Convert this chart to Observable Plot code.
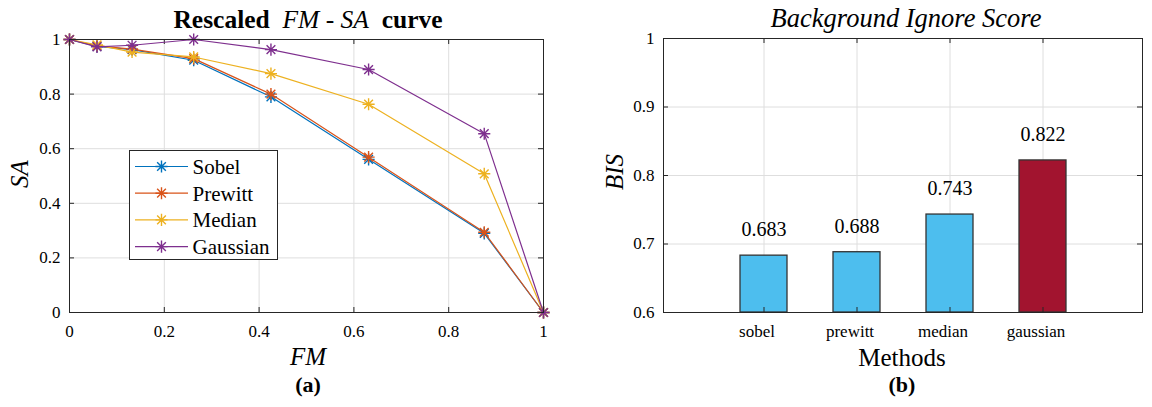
<!DOCTYPE html>
<html><head><meta charset="utf-8">
<script src="https://cdn.jsdelivr.net/npm/d3@7"></script>
<script src="https://cdn.jsdelivr.net/npm/@observablehq/plot@0.6"></script>
<style>
body{margin:0;background:#fff;width:1152px;height:407px;overflow:hidden;position:relative;font-family:"Liberation Serif","Times New Roman",serif;}
#a,#b{position:absolute;top:0;}
#a{left:0}
#b{left:576px}
#legend{position:absolute;left:129px;top:150px;}
</style></head><body>
<div id="a"></div><div id="b"></div><div id="legend"></div>
<script>
// ---------- data: panel (a) ----------
const fm = [0, 0.058, 0.132, 0.262, 0.425, 0.631, 0.875, 1.0];
const methodsA = ["Sobel", "Prewitt", "Median", "Gaussian"];
const saSobel    = [1.0, 0.975, 0.963, 0.924, 0.790, 0.561, 0.290, 0];
const saPrewitt  = [1.0, 0.977, 0.965, 0.930, 0.800, 0.569, 0.294, 0];
const saMedian   = [1.0, 0.980, 0.954, 0.936, 0.875, 0.763, 0.508, 0];
const saGaussian = [1.0, 0.973, 0.979, 1.0, 0.963, 0.890, 0.655, 0];
const lineColors = ["#0072BD", "#D95319", "#EDB120", "#7E2F8E"];
const ticksA = [0, 0.2, 0.4, 0.6, 0.8, 1];

// ---------- data: panel (b) ----------
const methodsB = ["sobel", "prewitt", "median", "gaussian"];
const bis = [0.683, 0.688, 0.743, 0.822];
const barColors = ["#4DBEEE", "#4DBEEE", "#4DBEEE", "#A2142F"];
const ticksBY = [0.6, 0.7, 0.8, 0.9, 1];
const yDomainB = [0.6, 1];

const FONT = '"Liberation Serif", "Times New Roman", serif';
const W = 576, H = 407;
const GRID = "#dedede", AX = "#262626";
const fmt = d => String(d);

// MATLAB-style '*' marker: a plus combined with an x
const star8 = {
  draw(ctx, size) {
    const r = Math.sqrt(size / Math.PI) * 1.1, q = r * 0.72;
    ctx.moveTo(-r, 0); ctx.lineTo(r, 0);
    ctx.moveTo(0, -r); ctx.lineTo(0, r);
    ctx.moveTo(-q, -q); ctx.lineTo(q, q);
    ctx.moveTo(-q, q); ctx.lineTo(q, -q);
  }
};

function serifAll(svg) {
  d3.select(svg).style("font-family", FONT, "important");
  d3.select(svg).selectAll("g, text, tspan").style("font-family", FONT, "important");
}

// ---------- panel (a) ----------
const mA = {top: 39, right: 33, bottom: 95, left: 69};
const ihA = H - mA.top - mA.bottom, iwA = W - mA.left - mA.right;
const seriesA = [saSobel, saPrewitt, saMedian, saGaussian];
const rowsA = methodsA.flatMap((m, i) => fm.map((x, j) => ({method: m, fm: x, sa: seriesA[i][j]})));

const plotA = Plot.plot({
  width: W, height: H,
  marginTop: mA.top, marginRight: mA.right, marginBottom: mA.bottom, marginLeft: mA.left,
  style: {fontFamily: FONT, fontSize: "17px", background: "white", color: AX},
  x: {domain: [0, 1]},
  y: {domain: [0, 1]},
  color: {domain: methodsA, range: lineColors},
  marks: [
    Plot.gridX(ticksA, {stroke: GRID, strokeOpacity: 1}),
    Plot.gridY(ticksA, {stroke: GRID, strokeOpacity: 1}),
    Plot.axisX(ticksA, {tickSize: 0, tickPadding: 12, label: null, fontSize: 17, tickFormat: fmt, fill: "#000"}),
    Plot.axisY(ticksA, {tickSize: 0, tickPadding: 9, label: null, fontSize: 17, tickFormat: fmt, fill: "#000"}),
    Plot.ruleX(ticksA, {x: d => d, insetTop: ihA - 5, stroke: AX}),
    Plot.ruleX(ticksA, {x: d => d, insetBottom: ihA - 5, stroke: AX}),
    Plot.ruleY(ticksA, {y: d => d, insetRight: iwA - 5, stroke: AX}),
    Plot.ruleY(ticksA, {y: d => d, insetLeft: iwA - 5, stroke: AX}),
    ...methodsA.flatMap(m => [
      Plot.line(rowsA.filter(d => d.method === m), {x: "fm", y: "sa", stroke: "method", strokeWidth: 1.2}),
      Plot.dot(rowsA.filter(d => d.method === m), {x: "fm", y: "sa", stroke: "method", symbol: star8, r: 5.5, strokeWidth: 1.4})
    ]),
    Plot.frame({stroke: AX, strokeWidth: 1})
  ]
});
document.getElementById("a").appendChild(plotA);

const sa = d3.select(plotA);
const cxA = 308;
const tA = sa.append("text").attr("x", cxA).attr("y", 28).attr("text-anchor", "middle")
  .attr("font-size", 25.5).attr("fill", "#000").style("white-space", "pre");
tA.append("tspan").attr("font-weight", "bold").text("Rescaled");
tA.append("tspan").attr("font-style", "italic").text("\u00a0\u00a0FM - SA\u00a0\u00a0");
tA.append("tspan").attr("font-weight", "bold").text("curve");
sa.append("text").attr("x", cxA).attr("y", 365).attr("text-anchor", "middle")
  .attr("font-size", 25).attr("font-style", "italic").attr("fill", "#000").text("FM");
sa.append("text").attr("x", cxA).attr("y", 392).attr("text-anchor", "middle")
  .attr("font-size", 22).attr("font-weight", "bold").attr("fill", "#000").text("(a)");
sa.append("text").attr("transform", "translate(28,174) rotate(-90)").attr("text-anchor", "middle")
  .attr("font-size", 25).attr("font-style", "italic").attr("fill", "#000").text("SA");
serifAll(plotA);

// legend for panel (a)
const lg = d3.select("#legend").append("svg").attr("width", 150).attr("height", 111)
  .style("font-family", FONT);
lg.append("rect").attr("x", 0.5).attr("y", 0.5).attr("width", 148).attr("height", 109)
  .attr("fill", "#fff").attr("stroke", AX);
methodsA.forEach((m, i) => {
  const y = 16.5 + i * 26.7;
  lg.append("line").attr("x1", 6).attr("x2", 59).attr("y1", y).attr("y2", y)
    .attr("stroke", lineColors[i]).attr("stroke-width", 1.2);
  lg.append("path").attr("d", d3.symbol(star8, Math.PI * 5.5 * 5.5)())
    .attr("transform", `translate(32.5,${y})`).attr("fill", "none")
    .attr("stroke", lineColors[i]).attr("stroke-width", 1.4);
  lg.append("text").attr("x", 63.5).attr("y", y).attr("dy", "0.35em")
    .attr("font-size", 21).attr("fill", "#000").text(m);
});

// ---------- panel (b) ----------
const mB = {top: 38, right: 10, bottom: 95, left: 87};
const ihB = H - mB.top - mB.bottom, iwB = W - mB.left - mB.right;
const rowsB = methodsB.map((m, i) => ({method: m, bis: bis[i], color: barColors[i]}));

const plotB = Plot.plot({
  width: W, height: H,
  marginTop: mB.top, marginRight: mB.right, marginBottom: mB.bottom, marginLeft: mB.left,
  style: {fontFamily: FONT, fontSize: "17px", background: "white", color: AX},
  x: {type: "band", domain: methodsB, paddingInner: 0.5, paddingOuter: 0.8},
  y: {domain: yDomainB},
  color: {type: "identity"},
  marks: [
    Plot.gridX(methodsB, {stroke: GRID, strokeOpacity: 1}),
    Plot.gridY(ticksBY, {stroke: GRID, strokeOpacity: 1}),
    Plot.axisX(methodsB, {tickSize: 0, tickPadding: 12, dx: -7, label: null, fontSize: 17, fill: "#000"}),
    Plot.axisY(ticksBY, {tickSize: 0, tickPadding: 9, label: null, fontSize: 17, tickFormat: fmt, fill: "#000"}),
    Plot.barY(rowsB, {x: "method", y1: yDomainB[0], y2: "bis", fill: "color", stroke: "#333", strokeWidth: 1.3}),
    Plot.ruleX(methodsB, {x: d => d, insetTop: ihB - 5, stroke: AX}),
    Plot.ruleX(methodsB, {x: d => d, insetBottom: ihB - 5, stroke: AX}),
    Plot.ruleY(ticksBY, {y: d => d, insetRight: iwB - 5, stroke: AX}),
    Plot.ruleY(ticksBY, {y: d => d, insetLeft: iwB - 5, stroke: AX}),
    Plot.text(rowsB, {x: "method", y: "bis", text: d => d.bis.toFixed(3), dy: -26, fontSize: 20, fill: "#000"}),
    Plot.frame({stroke: AX, strokeWidth: 1})
  ]
});
document.getElementById("b").appendChild(plotB);

const sb = d3.select(plotB);
const cxB = 326;
sb.append("text").attr("x", 330).attr("y", 27).attr("text-anchor", "middle")
  .attr("font-size", 26.5).attr("font-style", "italic").attr("fill", "#000").text("Background Ignore Score");
sb.append("text").attr("x", cxB).attr("y", 366).attr("text-anchor", "middle")
  .attr("font-size", 25).attr("fill", "#000").text("Methods");
sb.append("text").attr("x", cxB).attr("y", 392).attr("text-anchor", "middle")
  .attr("font-size", 22).attr("font-weight", "bold").attr("fill", "#000").text("(b)");
sb.append("text").attr("transform", "translate(47,172) rotate(-90)").attr("text-anchor", "middle")
  .attr("font-size", 25).attr("font-style", "italic").attr("fill", "#000").text("BIS");
serifAll(plotB);
</script>
</body></html>
